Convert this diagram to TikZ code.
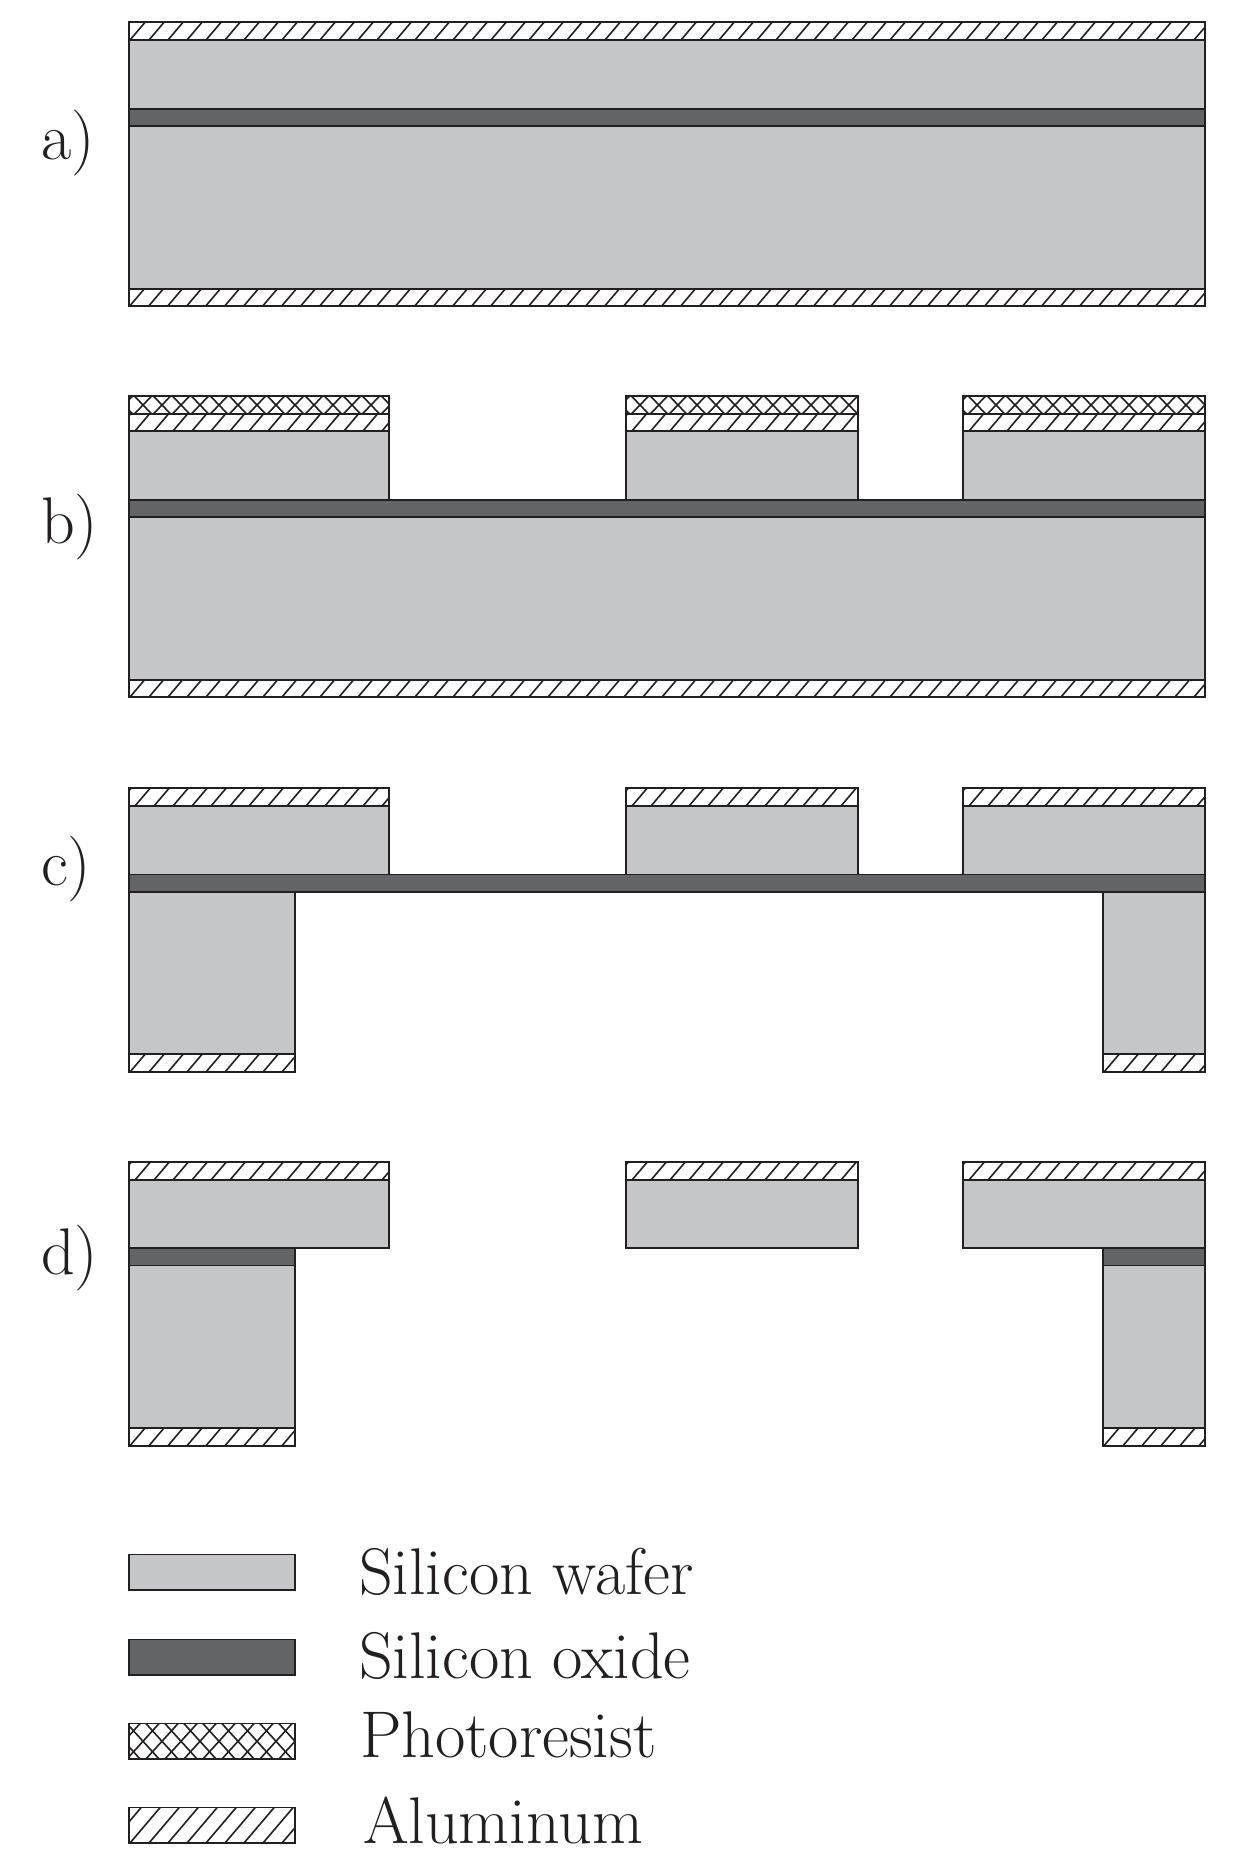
\documentclass[tikz,border=0pt]{standalone}
\definecolor{wafer}{HTML}{C5C6C8}
\definecolor{oxide}{HTML}{636466}
\definecolor{ink}{HTML}{231F20}
\tikzset{
  outline/.style={draw=ink,line width=1.7pt,line join=miter},
  wafer box/.style={outline,fill=wafer},
  oxide box/.style={outline,fill=oxide},
  hatch line/.style={draw=ink,line width=1.6pt},
  label text/.style={anchor=base west,inner sep=0pt,outer sep=0pt,text=ink,font=\fontsize{66}{72}\selectfont},
}
% #1 x0, #2 ytop, #3 x1, #4 ybot, #5 phase
\newcommand{\alumbox}[5]{%
  \fill[white] (#1,#2) rectangle (#3,#4);
  \begin{scope}
    \clip (#1,#2) rectangle (#3,#4);
    \pgfmathsetmacro{\hh}{#4-#2}
    \foreach \k in {-2,...,60} {
      \pgfmathsetmacro{\xa}{#1+#5+19*\k}
      \pgfmathsetmacro{\xb}{\xa+0.85*\hh}
      \draw[hatch line] (\xa,#4) -- (\xb,#2);
    }
  \end{scope}
  \draw[outline] (#1,#2) rectangle (#3,#4);
}
% #5 x of a crossing at mid height
\newcommand{\resistbox}[5]{%
  \fill[white] (#1,#2) rectangle (#3,#4);
  \begin{scope}
    \clip (#1,#2) rectangle (#3,#4);
    \pgfmathsetmacro{\hh}{(#4-#2)/2}
    \foreach \k in {-2,...,60} {
      \pgfmathsetmacro{\xc}{#1+#5+19*\k}
      \pgfmathsetmacro{\xa}{\xc-0.85*\hh-1}
      \pgfmathsetmacro{\xb}{\xc+0.85*\hh+1}
      \draw[hatch line] (\xa,#4) -- (\xb,#2);
      \draw[hatch line] (\xa,#2) -- (\xb,#4);
    }
  \end{scope}
  \draw[outline] (#1,#2) rectangle (#3,#4);
}
\begin{document}
\begin{tikzpicture}[x=1pt,y=-1pt]
\useasboundingbox (0,0) rectangle (1244,1870);
\fill[white] (0,0) rectangle (1244,1870);
% a
\alumbox{129}{22}{1205}{40}{1}
\draw[wafer box] (129,40) rectangle (1205,108.7);
\draw[oxide box] (129,108.7) rectangle (1205,126);
\draw[wafer box] (129,126) rectangle (1205,288.7);
\alumbox{129}{288.7}{1205}{305.7}{1}
% b
\resistbox{129}{396}{389}{414}{14}
\alumbox{129}{414}{389}{431}{6}
\draw[wafer box] (129,431) rectangle (389,499.7);
\resistbox{626}{396}{858}{414}{14}
\alumbox{626}{414}{858}{431}{6}
\draw[wafer box] (626,431) rectangle (858,499.7);
\resistbox{963}{396}{1205}{414}{14}
\alumbox{963}{414}{1205}{431}{6}
\draw[wafer box] (963,431) rectangle (1205,499.7);
\draw[oxide box] (129,499.7) rectangle (1205,517);
\draw[wafer box] (129,517) rectangle (1205,680);
\alumbox{129}{680}{1205}{697}{1}
% c
\alumbox{129}{788}{389}{806}{6}
\draw[wafer box] (129,806) rectangle (389,874.5);
\alumbox{626}{788}{858}{806}{6}
\draw[wafer box] (626,806) rectangle (858,874.5);
\alumbox{963}{788}{1205}{806}{6}
\draw[wafer box] (963,806) rectangle (1205,874.5);
\draw[oxide box] (129,874.5) rectangle (1205,892);
\draw[wafer box] (129,892) rectangle (295,1054);
\alumbox{129}{1054}{295}{1072}{1}
\draw[wafer box] (1103,892) rectangle (1205,1054);
\alumbox{1103}{1054}{1205}{1072}{1}
% d
\alumbox{129}{1162}{389}{1180}{6}
\draw[wafer box] (129,1180) rectangle (389,1248);
\alumbox{626}{1162}{858}{1180}{6}
\draw[wafer box] (626,1180) rectangle (858,1248);
\alumbox{963}{1162}{1205}{1180}{6}
\draw[wafer box] (963,1180) rectangle (1205,1248);
\draw[oxide box] (129,1248) rectangle (295,1265.5);
\draw[wafer box] (129,1265.5) rectangle (295,1428);
\alumbox{129}{1428}{295}{1445.7}{1}
\draw[oxide box] (1103,1248) rectangle (1205,1265.5);
\draw[wafer box] (1103,1265.5) rectangle (1205,1428);
\alumbox{1103}{1428}{1205}{1445.7}{1}
% legend
\draw[wafer box] (129,1554.5) rectangle (295,1590);
\draw[oxide box] (129,1639.5) rectangle (295,1675);
\resistbox{129}{1723.5}{295}{1759}{14}
\alumbox{129}{1807.5}{295}{1843}{1}
% labels
\node[label text] (la) at (41,159.5) {a)};
\node[label text] (lb) at (41,543) {b)};
\node[label text] (lc) at (41,885) {c)};
\node[label text] (ld) at (41,1274) {d)};
\node[label text] (t1) at (359,1594) {Silicon wafer};
\node[label text] (t2) at (359,1678) {Silicon oxide};
\node[label text] (t3) at (360,1757) {Photoresist};
\node[label text] (t4) at (363,1843) {Aluminum};
\end{tikzpicture}
\end{document}
